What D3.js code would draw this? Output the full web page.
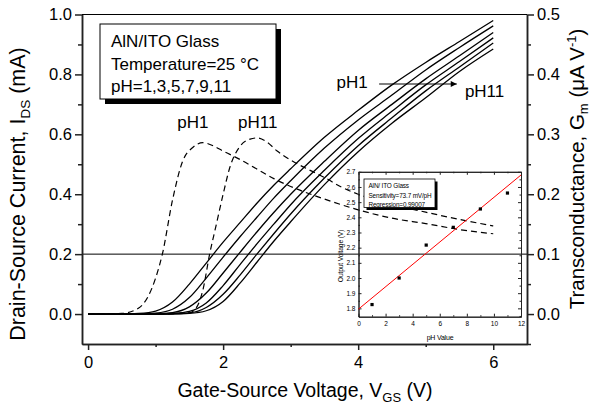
<!DOCTYPE html>
<html lang="en">
<head>
<meta charset="utf-8">
<title>AlN/ITO Glass transfer curves</title>
<script src="https://cdn.jsdelivr.net/npm/d3@7"></script>
<style>
    body { margin: 0; background: #fff; }
    svg { display: block; font-family: "Liberation Sans", Arial, sans-serif; }
</style>
</head>
<body>
<script>
    // Gate-source voltage grid (V) for the Ids curves
    var vgs = [0, 0.5, 0.75, 1.0, 1.25, 1.5, 1.75, 2.0, 2.25, 2.5, 2.75, 3.0, 3.5, 4.0, 4.5, 5.0, 5.5, 6.0];

    // Drain-source current (mA), pH 1 .. 11
    var idsPH1  = [0, 0, 0.002, 0.01, 0.04, 0.10, 0.17, 0.24, 0.305, 0.37, 0.43, 0.485, 0.59, 0.68, 0.765, 0.84, 0.91, 0.98];
    var idsPH3  = [0, 0, 0, 0.003, 0.016, 0.055, 0.12, 0.19, 0.258, 0.323, 0.387, 0.445, 0.554, 0.648, 0.731, 0.815, 0.89, 0.962];
    var idsPH5  = [0, 0, 0, 0.001, 0.005, 0.024, 0.07, 0.137, 0.206, 0.274, 0.339, 0.40, 0.51, 0.613, 0.70, 0.785, 0.862, 0.94];
    var idsPH7  = [0, 0, 0, 0, 0.002, 0.009, 0.037, 0.095, 0.165, 0.234, 0.30, 0.365, 0.48, 0.586, 0.677, 0.765, 0.843, 0.922];
    var idsPH9  = [0, 0, 0, 0, 0.001, 0.004, 0.022, 0.066, 0.13, 0.20, 0.268, 0.334, 0.454, 0.562, 0.655, 0.745, 0.825, 0.905];
    var idsPH11 = [0, 0, 0, 0, 0, 0.002, 0.011, 0.042, 0.103, 0.173, 0.243, 0.308, 0.432, 0.542, 0.637, 0.722, 0.81, 0.885];

    // Transconductance (right axis), pH1 and pH11
    var gmV1   = [0, 0.5, 0.75, 1.0, 1.1, 1.25, 1.4, 1.55, 1.7, 1.85, 2.0, 2.25, 2.5, 2.75, 3.0, 3.5, 4.0, 4.5, 5.0, 5.5, 6.0];
    var gmPH1  = [0, 0.001, 0.01, 0.06, 0.1, 0.19, 0.255, 0.278, 0.286, 0.281, 0.272, 0.258, 0.242, 0.226, 0.213, 0.192, 0.174, 0.16, 0.151, 0.141, 0.134];
    var gmV11  = [0, 1.0, 1.5, 1.6, 1.7, 1.8, 1.9, 2.0, 2.1, 2.25, 2.4, 2.5, 2.65, 2.8, 3.0, 3.25, 3.5, 3.75, 4.0, 4.5, 5.0, 5.5, 6.0];
    var gmPH11 = [0, 0, 0.002, 0.01, 0.04, 0.1, 0.15, 0.2, 0.245, 0.28, 0.292, 0.294, 0.287, 0.272, 0.257, 0.242, 0.228, 0.212, 0.2, 0.183, 0.17, 0.158, 0.147];

    // Inset: output voltage vs pH and linear fit
    var phValues = [1, 3, 5, 7, 9, 11];
    var outVolts = [1.825, 2.0, 2.217, 2.334, 2.455, 2.56];
    var fitPH = [0, 12];
    var fitV = [1.795, 2.679];

    // Tick values
    var xTicks = [0, 2, 4, 6];
    var xMinor = [1, 3, 5];
    var yTicks = [0.0, 0.2, 0.4, 0.6, 0.8, 1.0];
    var yMinor = [0.1, 0.3, 0.5, 0.7, 0.9];
    var y2Ticks = [0.0, 0.1, 0.2, 0.3, 0.4, 0.5];
    var y2Minor = [-0.05, 0.05, 0.15, 0.25, 0.35, 0.45];
    var ixTicks = [0, 2, 4, 6, 8, 10, 12];
    var ixMinor = [1, 3, 5, 7, 9, 11];
    var iyTicks = [1.8, 1.9, 2.0, 2.1, 2.2, 2.3, 2.4, 2.5, 2.6, 2.7];
    var iyMinor = [1.75, 1.85, 1.95, 2.05, 2.15, 2.25, 2.35, 2.45, 2.55, 2.65];

    var w = 590, h = 408;
    var font = "\"Liberation Sans\", Arial, sans-serif";

    // Scales
    var x = d3.scaleLinear().domain([-0.09, 6.5]).range([82, 527]);
    var y = d3.scaleLinear().domain([-0.1, 1.0]).range([344, 14.5]);
    var y2 = d3.scaleLinear().domain([-0.05, 0.5]).range([344, 14.5]);
    var ix = d3.scaleLinear().domain([0, 12]).range([358.5, 521]);
    var iy = d3.scaleLinear().domain([1.745, 2.7]).range([316.7, 171.8]);

    var svg = d3.select("body").append("svg")
        .attr("width", w)
        .attr("height", h);

    function styleAxis(g, size, width) {
        g.attr("font-size", size).attr("font-family", font);
        g.selectAll("path, line").attr("stroke", "#222").attr("stroke-width", width);
        g.selectAll("text").attr("fill", "#000");
    }

    // Horizontal reference line at 0.2 mA
    svg.append("line")
        .attr("x1", x.range()[0]).attr("x2", x.range()[1])
        .attr("y1", y(0.2)).attr("y2", y(0.2))
        .attr("stroke", "#000").attr("stroke-width", 1);

    // Top frame line
    svg.append("line")
        .attr("x1", x.range()[0]).attr("x2", x.range()[1])
        .attr("y1", y(1.0)).attr("y2", y(1.0))
        .attr("stroke", "#000").attr("stroke-width", 1.2);

    // Main axes
    svg.append("g")
        .attr("transform", "translate(0," + y.range()[0] + ")")
        .call(d3.axisBottom(x).tickValues(xTicks).tickFormat(d3.format("d")).tickSize(6).tickSizeOuter(0).tickPadding(6))
        .call(styleAxis, 16.5, 1.5);
    svg.append("g")
        .attr("transform", "translate(0," + y.range()[0] + ")")
        .call(d3.axisBottom(x).tickValues(xMinor).tickFormat("").tickSize(3).tickSizeOuter(0))
        .call(styleAxis, 16.5, 1.5);

    svg.append("g")
        .attr("transform", "translate(" + x.range()[0] + ",0)")
        .call(d3.axisLeft(y).tickValues(yTicks).tickFormat(d3.format(".1f")).tickSize(7).tickSizeOuter(0))
        .call(styleAxis, 16.5, 1.5);
    svg.append("g")
        .attr("transform", "translate(" + x.range()[0] + ",0)")
        .call(d3.axisLeft(y).tickValues(yMinor).tickFormat("").tickSize(4).tickSizeOuter(0))
        .call(styleAxis, 16.5, 1.5);

    svg.append("g")
        .attr("transform", "translate(" + x.range()[1] + ",0)")
        .call(d3.axisRight(y2).tickValues(y2Ticks).tickFormat(d3.format(".1f")).tickSize(7).tickSizeOuter(0))
        .call(styleAxis, 16.5, 1.5);
    svg.append("g")
        .attr("transform", "translate(" + x.range()[1] + ",0)")
        .call(d3.axisRight(y2).tickValues(y2Minor).tickFormat("").tickSize(4).tickSizeOuter(0))
        .call(styleAxis, 16.5, 1.5);

    // Ids curves
    var idsLine = d3.line()
        .x(function(d, i) { return x(vgs[i]); })
        .y(function(d) { return y(d); })
        .curve(d3.curveMonotoneX);

    svg.selectAll("path.ids")
        .data([idsPH1, idsPH3, idsPH5, idsPH7, idsPH9, idsPH11])
        .enter()
        .append("path")
        .attr("class", "ids")
        .attr("d", idsLine)
        .attr("fill", "none")
        .attr("stroke", "#000")
        .attr("stroke-width", 1.3);

    // Transconductance curves (dashed)
    var gmSets = [
        { v: gmV1, g: gmPH1 },
        { v: gmV11, g: gmPH11 }
    ];
    svg.selectAll("path.gm")
        .data(gmSets)
        .enter()
        .append("path")
        .attr("class", "gm")
        .attr("d", function(s) {
            return d3.line()
                .x(function(d, i) { return x(s.v[i]); })
                .y(function(d) { return y2(d); })
                .curve(d3.curveMonotoneX)(s.g);
        })
        .attr("fill", "none")
        .attr("stroke", "#000")
        .attr("stroke-width", 1.2)
        .attr("stroke-dasharray", "6,4");

    // Annotations
    function label(txt, vx, vy, size) {
        svg.append("text")
            .attr("x", x(vx)).attr("y", y(vy))
            .attr("font-size", size)
            .text(txt);
    }
    label("pH1", 1.32, 0.621, 17);
    label("pH11", 2.22, 0.621, 17);
    label("pH1", 3.68, 0.754, 17);
    label("pH11", 5.58, 0.726, 17);

    svg.append("defs").append("marker")
        .attr("id", "arrow")
        .attr("viewBox", "0 0 10 10")
        .attr("refX", 10).attr("refY", 5)
        .attr("markerWidth", 9).attr("markerHeight", 6)
        .attr("markerUnits", "userSpaceOnUse")
        .attr("orient", "auto")
        .append("path")
        .attr("d", "M0,0 L10,5 L0,10 z")
        .attr("fill", "#000");

    svg.append("line")
        .attr("x1", x(4.31)).attr("x2", x(5.46))
        .attr("y1", y(0.768)).attr("y2", y(0.768))
        .attr("stroke", "#000").attr("stroke-width", 1.2)
        .attr("marker-end", "url(#arrow)");

    // Text box (top left)
    svg.append("rect")
        .attr("x", 105).attr("y", 29).attr("width", 176).attr("height", 75)
        .attr("fill", "#000");
    svg.append("rect")
        .attr("x", 100).attr("y", 24).attr("width", 176).attr("height", 75)
        .attr("fill", "#fff").attr("stroke", "#000").attr("stroke-width", 1);
    var boxText = ["AlN/ITO Glass", "Temperature=25 \u00B0C", "pH=1,3,5,7,9,11"];
    var boxBase = [46.5, 70, 91.5];
    svg.selectAll("text.box")
        .data(boxText)
        .enter()
        .append("text")
        .attr("class", "box")
        .attr("x", 111)
        .attr("y", function(d, i) { return boxBase[i]; })
        .attr("font-size", 17)
        .text(function(d) { return d; });

    // Axis titles
    var xt = svg.append("text")
        .attr("x", 305).attr("y", 397)
        .attr("text-anchor", "middle")
        .attr("font-size", 19.5);
    xt.append("tspan").text("Gate-Source Voltage, V");
    xt.append("tspan").attr("font-size", 13).attr("dy", 5).text("GS");
    xt.append("tspan").attr("dy", -5).text(" (V)");

    var yt = svg.append("text")
        .attr("transform", "translate(25,194) rotate(-90)")
        .attr("text-anchor", "middle")
        .attr("font-size", 21.5);
    yt.append("tspan").text("Drain-Source Current, I");
    yt.append("tspan").attr("font-size", 13.5).attr("dy", 5).text("DS");
    yt.append("tspan").attr("dy", -5).text(" (mA)");

    var y2t = svg.append("text")
        .attr("transform", "translate(584,169) rotate(-90)")
        .attr("text-anchor", "middle")
        .attr("font-size", 20.5);
    y2t.append("tspan").text("Transconductance, G");
    y2t.append("tspan").attr("font-size", 13).attr("dy", 4).text("m");
    y2t.append("tspan").attr("dy", -4).text(" (\u03BCA V");
    y2t.append("tspan").attr("font-size", 13).attr("dy", -8).text("-1");
    y2t.append("tspan").attr("dy", 8).text(")");

    // ---------- Inset ----------
    var inset = svg.append("g");

    inset.append("g")
        .attr("transform", "translate(0," + iy.range()[0] + ")")
        .call(d3.axisBottom(ix).tickValues(ixTicks).tickFormat(d3.format("d")).tickSize(-3).tickSizeOuter(0).tickPadding(5))
        .call(styleAxis, 6.5, 1);
    inset.append("g")
        .attr("transform", "translate(0," + iy.range()[0] + ")")
        .call(d3.axisBottom(ix).tickValues(ixMinor).tickFormat("").tickSize(-1.5).tickSizeOuter(0))
        .call(styleAxis, 6.5, 1);
    inset.append("g")
        .attr("transform", "translate(0," + iy.range()[1] + ")")
        .call(d3.axisTop(ix).tickValues(ixTicks).tickFormat("").tickSize(-3).tickSizeOuter(0))
        .call(styleAxis, 6.5, 1);
    inset.append("g")
        .attr("transform", "translate(0," + iy.range()[1] + ")")
        .call(d3.axisTop(ix).tickValues(ixMinor).tickFormat("").tickSize(-1.5).tickSizeOuter(0))
        .call(styleAxis, 6.5, 1);
    inset.append("g")
        .attr("transform", "translate(" + ix.range()[0] + ",0)")
        .call(d3.axisLeft(iy).tickValues(iyTicks).tickFormat(d3.format(".1f")).tickSize(-3).tickSizeOuter(0).tickPadding(3))
        .call(styleAxis, 6.5, 1);
    inset.append("g")
        .attr("transform", "translate(" + ix.range()[0] + ",0)")
        .call(d3.axisLeft(iy).tickValues(iyMinor).tickFormat("").tickSize(-1.5).tickSizeOuter(0))
        .call(styleAxis, 6.5, 1);
    inset.append("g")
        .attr("transform", "translate(" + ix.range()[1] + ",0)")
        .call(d3.axisRight(iy).tickValues(iyTicks).tickFormat("").tickSize(-3).tickSizeOuter(0))
        .call(styleAxis, 6.5, 1);
    inset.append("g")
        .attr("transform", "translate(" + ix.range()[1] + ",0)")
        .call(d3.axisRight(iy).tickValues(iyMinor).tickFormat("").tickSize(-1.5).tickSizeOuter(0))
        .call(styleAxis, 6.5, 1);

    // Fit line
    inset.append("path")
        .datum(fitV)
        .attr("d", d3.line()
            .x(function(d, i) { return ix(fitPH[i]); })
            .y(function(d) { return iy(d); }))
        .attr("fill", "none")
        .attr("stroke", "#ff0000")
        .attr("stroke-width", 1);

    // Measured points
    inset.selectAll("rect.pt")
        .data(outVolts)
        .enter()
        .append("rect")
        .attr("class", "pt")
        .attr("x", function(d, i) { return ix(phValues[i]) - 1.6; })
        .attr("y", function(d) { return iy(d) - 1.6; })
        .attr("width", 3.2)
        .attr("height", 3.2)
        .attr("fill", "#000");

    // Inset text box
    inset.append("rect")
        .attr("x", 366.5).attr("y", 181.5).attr("width", 71).attr("height", 28.5)
        .attr("fill", "#000");
    inset.append("rect")
        .attr("x", 364).attr("y", 179).attr("width", 71).attr("height", 28.5)
        .attr("fill", "#fff").attr("stroke", "#000").attr("stroke-width", 0.8);
    var insetText = ["AlN/ ITO Glass", "Sensitivity=73.7 mV/pH", "Regression=0.99007"];
    var insetBase = [188, 197.5, 206.5];
    inset.selectAll("text.ib")
        .data(insetText)
        .enter()
        .append("text")
        .attr("class", "ib")
        .attr("x", 368.5)
        .attr("y", function(d, i) { return insetBase[i]; })
        .attr("font-size", 6.4)
        .attr("letter-spacing", -0.15)
        .text(function(d) { return d; });

    // Inset axis titles
    inset.append("text")
        .attr("x", 440).attr("y", 339.5)
        .attr("text-anchor", "middle")
        .attr("font-size", 7)
        .attr("letter-spacing", -0.2)
        .text("pH Value");
    inset.append("text")
        .attr("transform", "translate(342.5,256) rotate(-90)")
        .attr("text-anchor", "middle")
        .attr("font-size", 6.8)
        .attr("letter-spacing", -0.2)
        .text("Output Voltage (V)");
</script>
</body>
</html>
